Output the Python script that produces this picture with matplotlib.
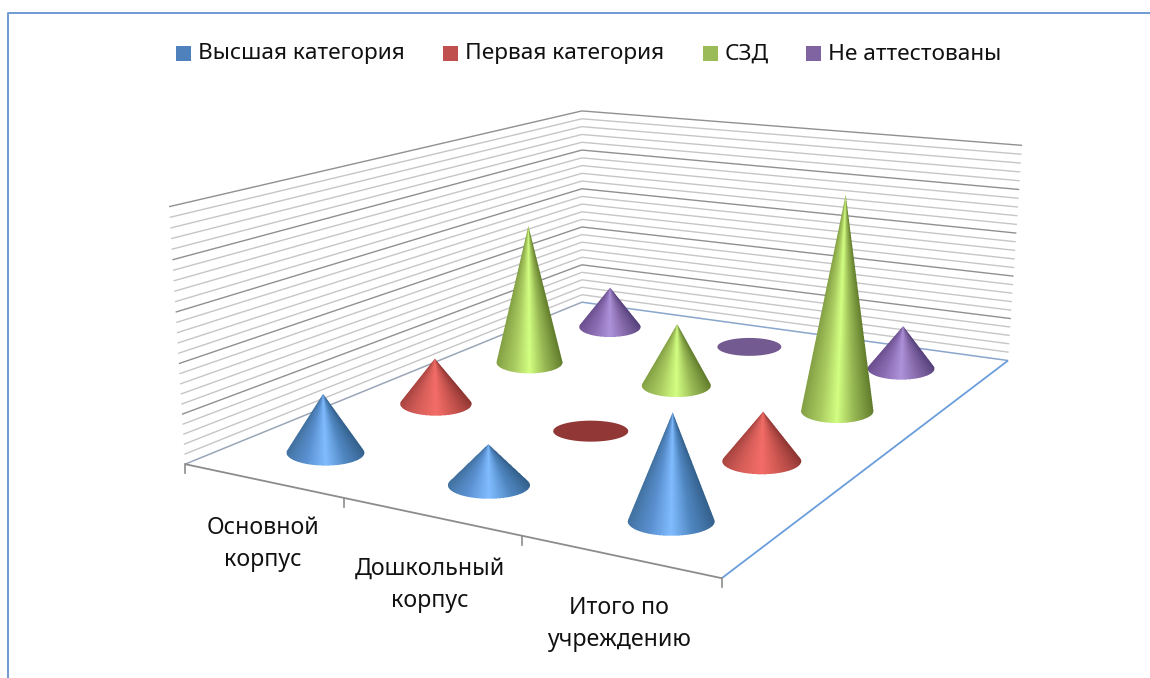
import numpy as np
import matplotlib
matplotlib.use("Agg")
import matplotlib.pyplot as plt
from matplotlib.colors import to_rgb
from matplotlib.patches import Polygon, Rectangle
from matplotlib.path import Path

categories = ["Основной\nкорпус", "Дошкольный\nкорпус", "Итого по\nучреждению"]
series_names = ["Высшая категория", "Первая категория", "СЗД", "Не аттестованы"]
vysshaya = [6, 4, 10]
pervaya = [5, 0, 5]
szd = [16, 7, 23]
ne_att = [5, 0, 5]
z_max = 25
z_major = 5

plt.rcParams["font.family"] = ["Noto Sans", "DejaVu Sans"]

legend_colors = ["#4f81bd", "#c0504d", "#9bbb59", "#8064a2"]
flat_colors = ["#3f6fa8", "#913836", "#7a9640", "#735a90"]
# left edge, left, highlight, right, right edge
shades = [
    ["#41719f", "#5a90d0", "#80bcff", "#4f86c0", "#34608c"],
    ["#a84440", "#d65e59", "#f46d68", "#c8544f", "#8f3633"],
    ["#83a044", "#a9ca60", "#d2ff82", "#98b854", "#617c2c"],
    ["#6b4f8e", "#8a6cb2", "#ad92da", "#8468a8", "#56427c"],
]

# camera calibration: (floor u, depth v, height z) -> picture pixel
calib = [
    (0, 0, 0, 185, 464), (1, 0, 0, 722, 578), (0, 1, 0, 582, 302), (1, 1, 0, 1008, 361),
    (0, 0, 1, 169, 207), (0, 1, 1, 582, 111), (1, 1, 1, 1022, 145),
]
A, b = [], []
for u, v, z, x, y in calib:
    A.append([u, v, z, 1, 0, 0, 0, 0, -x * u, -x * v, -x * z])
    A.append([0, 0, 0, 0, u, v, z, 1, -y * u, -y * v, -y * z])
    b += [x, y]
sol = np.linalg.lstsq(np.array(A, float), np.array(b, float), rcond=None)[0]
P = np.array([list(sol[:4]), list(sol[4:8]), list(sol[8:]) + [1.0]])


def proj(u, v, z=0.0):
    h = P @ np.array([u, v, z, 1.0])
    return h[0] / h[2], h[1] / h[2]


def depth_scale(u, v):
    # 1 at the flat red cone, grows toward the viewer
    ref = P[2] @ np.array([0.5, 0.375, 0.0, 1.0])
    return ref / (P[2] @ np.array([u, v, 0.0, 1.0]))


def line(ax, p0, p1, color, lw=1.0, zorder=1):
    x0, y0 = proj(*p0)
    x1, y1 = proj(*p1)
    ax.plot([x0, x1], [y0, y1], color=color, lw=lw, zorder=zorder, solid_capstyle="butt")


def shade(t, stops):
    pos = [-1, -0.45, 0.0, 0.45, 1]
    rgb = np.array([to_rgb(c) for c in stops])
    return np.stack([np.interp(t, pos, rgb[:, i]) for i in range(3)], axis=-1)


def draw_cone(ax, cu, cv, value, s, order):
    cx, cy = proj(cu, cv)
    scale = depth_scale(cu, cv)
    ratio = flat_ratio if value == 0 else cone_ratio
    ra, rb = base_a * scale, base_a * ratio * scale
    theta = np.linspace(-np.pi / 2, 3 * np.pi / 2, 361)
    bx = cx + ra * np.cos(theta)
    by = cy + rb * np.sin(theta)
    if value == 0:
        ax.add_patch(Polygon(np.c_[bx, by], fc=flat_colors[s], ec="none", zorder=order))
        return

    tx, ty = proj(cu, cv, value / z_max)
    ang = np.arctan2(bx - tx, by - ty)
    i_r, i_l = np.argmax(ang), np.argmin(ang)
    outline = np.vstack([[tx, ty], np.c_[bx[i_r:i_l + 1], by[i_r:i_l + 1]]])
    path = Path(np.vstack([outline, outline[0]]))

    # shaded pixels with soft edge, 3x3 samples a pixel
    x0, x1 = int(outline[:, 0].min()) - 1, int(outline[:, 0].max()) + 2
    y0, y1 = int(outline[:, 1].min()) - 1, int(outline[:, 1].max()) + 2
    ss = 3
    xs = x0 + (np.arange((x1 - x0) * ss) + 0.5) / ss
    ys = y0 + (np.arange((y1 - y0) * ss) + 0.5) / ss
    gx, gy = np.meshgrid(xs, ys)
    inside = path.contains_points(np.c_[gx.ravel(), gy.ravel()]).reshape(gx.shape)
    xstar = tx + (gx - tx) * (cy - ty) / np.maximum(gy - ty, 0.01)
    t = np.clip((xstar - cx) / ra, -1, 1)
    rgb = shade(t, shades[s])
    h, w = y1 - y0, x1 - x0
    alpha = inside.reshape(h, ss, w, ss).mean(axis=(1, 3))
    weight = np.maximum(alpha, 1e-6)
    col = (rgb * inside[..., None]).reshape(h, ss, w, ss, 3).mean(axis=(1, 3)) / weight[..., None]
    img = np.dstack([np.clip(col, 0, 1), alpha])
    ax.imshow(img, extent=(x0, x1, y1, y0), origin="upper", interpolation="nearest",
              aspect="auto", zorder=order)


base_a = 37.5
cone_ratio = 0.33
flat_ratio = 0.28

fig = plt.figure(figsize=(11.5, 6.78), dpi=100)
ax = fig.add_axes([0, 0, 1, 1])

# outer chart border, only the top and left show in the crop
ax.plot([8, 8, 1150], [678, 13, 13], color="#6f9bd3", lw=1.4, zorder=0)

# wall gridlines
for k in range(1, z_max + 1):
    z = k / z_max
    major = k % z_major == 0
    color = "#909090" if major else "#c6c6c6"
    line(ax, (0, 0, z), (0, 1, z), color, 1.0)
    line(ax, (0, 1, z), (1, 1, z), color, 1.0)

# floor edges and category ticks
line(ax, (0, 0, 0), (0, 1, 0), "#9aa6b8", 1.1, 2)
line(ax, (0, 1, 0), (1, 1, 0), "#8aa6cc", 1.1, 2)
line(ax, (1, 1, 0), (1, 0, 0), "#6a9ddc", 1.3, 2)
line(ax, (0, 0, 0), (1, 0, 0), "#8c8c8c", 1.3, 2)
for i in range(len(categories) + 1):
    x0, y0 = proj(i / len(categories), 0.0)
    ax.plot([x0, x0], [y0, y0 + 9], color="#8c8c8c", lw=1.2, zorder=2)

# cones, far ones first
values = [vysshaya, pervaya, szd, ne_att]
cones = []
for s, vals in enumerate(values):
    for c, val in enumerate(vals):
        cu = (c + 0.5) / len(categories)
        cv = (s + 0.5) / len(series_names)
        cones.append((proj(cu, cv)[1], cu, cv, val, s))
for n, (_, cu, cv, val, s) in enumerate(sorted(cones)):
    draw_cone(ax, cu, cv, val, s, 3 + n)

# legend
legend_box_x = [176, 443, 703, 806]
legend_text_x = [198, 465, 725, 828]
for name, col, bx0, tx0 in zip(series_names, legend_colors, legend_box_x, legend_text_x):
    ax.add_patch(Rectangle((bx0, 46), 15, 15, fc=col, ec="none", zorder=50))
    ax.text(tx0, 54, name, fontsize=16.3, color="#111111", ha="left", va="center", zorder=50)

# category labels
label_xy = [(263, 544), (430, 585), (619, 624)]
for text, (lx, ly) in zip(categories, label_xy):
    ax.text(lx, ly, text, fontsize=16.7, color="#111111", ha="center", va="center",
            linespacing=1.48, zorder=50)

ax.set_xlim(0, 1150)
ax.set_ylim(678, 0)
ax.axis("off")
fig.savefig("out.png", dpi=100)
